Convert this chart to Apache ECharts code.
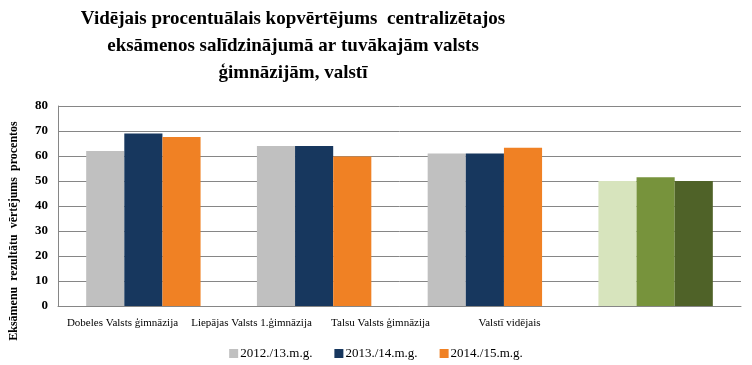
<!DOCTYPE html>
<html>
<head>
<meta charset="utf-8">
<script src="https://cdn.jsdelivr.net/npm/echarts@6/dist/echarts.min.js"></script>
<style>
  html, body { margin: 0; padding: 0; background: #fff; }
  #main { width: 752px; height: 365px; }
</style>
</head>
<body>
<div id="main"></div>
<script>
const categories = ['Dobeles Valsts ģimnāzija', 'Liepājas Valsts 1.ģimnāzija', 'Talsu Valsts ģimnāzija', 'Valstī vidējais']
const seriesNames = ['2012./13.m.g.', '2013./14.m.g.', '2014./15.m.g.']
const values2012 = [62, 64, 61, 50]
const values2013 = [69, 64, 61, 51.5]
const values2014 = [67.6, 59.8, 63.3, 50]

// krāsas: skolām un atsevišķi valsts vidējam
const seriesColors = ['#C0C0C0', '#17375E', '#F08124']
const nationalColors = ['#D7E4BD', '#77933C', '#4F6228']

const font = 'Liberation Serif'

function buildData (vals, idx) {
  return vals.map(function (v, i) {
    if (i === categories.length - 1) {
      return { value: v, itemStyle: { color: nationalColors[idx] } }
    }
    return v
  })
}

const chart = echarts.init(document.getElementById('main'))

const option = {
  backgroundColor: '#fff',
  animation: false,
  color: seriesColors,
  title: {
    text: 'Vidējais procentuālais kopvērtējums  centralizētajos\neksāmenos salīdzinājumā ar tuvākajām valsts\nģimnāzijām, valstī',
    left: 293,
    top: 6,
    padding: 0,
    textAlign: 'center',
    textStyle: {
      fontFamily: font,
      fontWeight: 'bold',
      fontSize: 19,
      lineHeight: 27,
      color: '#000'
    }
  },
  legend: {
    data: seriesNames,
    left: 'center',
    top: 342,
    itemWidth: 9,
    itemHeight: 9,
    itemGap: 22,
    icon: 'rect',
    textStyle: { fontFamily: font, fontSize: 13, color: '#000', padding: [0, 0, 0, -3] }
  },
  grid: [
    { left: 57, right: 11, top: 106, bottom: 59 },
    // etiķetes atsevišķā režģī - oriģinālā tās nav zem stabiņiem
    { left: 58, width: 516, top: 106, bottom: 59, show: false }
  ],
  xAxis: [
    {
      type: 'category',
      data: categories,
      gridIndex: 0,
      axisLine: { lineStyle: { color: '#868686' } },
      axisTick: { show: false },
      axisLabel: { show: false }
    },
    {
      type: 'category',
      data: categories,
      gridIndex: 1,
      axisLine: { show: false },
      axisTick: { show: false },
      axisLabel: { interval: 0, fontFamily: font, fontSize: 11, color: '#000', margin: 12 }
    }
  ],
  yAxis: [
    {
      type: 'value',
      gridIndex: 0,
      min: 0,
      max: 80,
      interval: 10,
      name: 'Eksāmenu  rezultātu  vērtējums  procentos',
      nameLocation: 'middle',
      nameRotate: 90,
      nameGap: 38,
      nameTextStyle: { fontFamily: font, fontWeight: 'bold', fontSize: 12, color: '#000', padding: [0, 50, 0, 0] },
      axisLine: { show: true, lineStyle: { color: '#868686' } },
      axisTick: { show: false },
      splitLine: { lineStyle: { color: '#868686' } },
      axisLabel: { fontFamily: font, fontWeight: 'bold', fontSize: 13, color: '#000', margin: 10 }
    },
    {
      type: 'value',
      gridIndex: 1,
      show: false
    }
  ],
  series: [
    {
      name: seriesNames[0],
      type: 'bar',
      barGap: '0%',
      barCategoryGap: '33%',
      data: buildData(values2012, 0)
    },
    {
      name: seriesNames[1],
      type: 'bar',
      data: buildData(values2013, 1)
    },
    {
      name: seriesNames[2],
      type: 'bar',
      data: buildData(values2014, 2)
    }
  ]
}
option && chart.setOption(option)
</script>
</body>
</html>
